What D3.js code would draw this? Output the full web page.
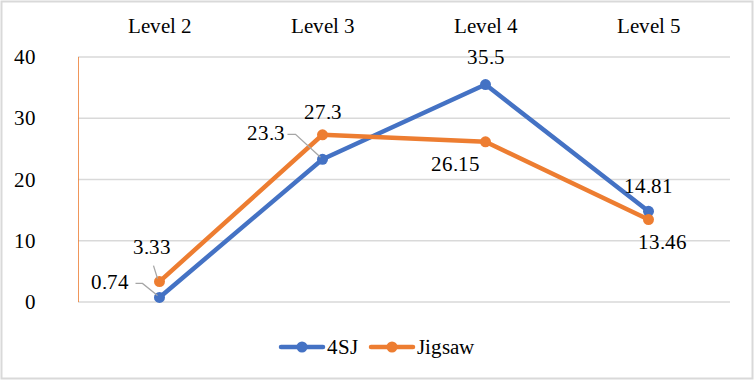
<!DOCTYPE html>
<html><head><meta charset="utf-8">
<script src="https://cdn.jsdelivr.net/npm/d3@7"></script>
<style>
@font-face{font-family:"ChartSerif";src:local("Liberation Serif"),local("LiberationSerif"),local("Liberation Serif Regular"),local("LiberationSerif-Regular");}
</style>
</head><body style="margin:0"><svg id="c" width="754" height="381"></svg>
<script>
const categories = ["Level 2","Level 3","Level 4","Level 5"];
const series4SJ = [0.74, 23.3, 35.5, 14.81];
const seriesJigsaw = [3.33, 27.3, 26.15, 13.46];
const seriesNames = ["4SJ","Jigsaw"];
const yTicks = [0,10,20,30,40];

const FONT = "ChartSerif, Liberation Serif, serif";
const svg = d3.select("#c");
const colors = {"4SJ":"#4472C4","Jigsaw":"#ED7D31"};
svg.append("rect").attr("x",1.5).attr("y",1.5).attr("width",751).attr("height",377)
  .attr("fill","#fff").attr("stroke","#d9d9d9").attr("stroke-width",2);

const x = d3.scaleBand().domain(categories).range([78,730]).padding(0);
const y = d3.scaleLinear().domain([0,40]).range([302,57]);
const cx = c => x(c)+x.bandwidth()/2;

svg.append("g").selectAll("line").data(yTicks).join("line")
  .attr("x1",78).attr("x2",730).attr("y1",d=>y(d)).attr("y2",d=>y(d))
  .attr("stroke","#d9d9d9").attr("stroke-width",1.3);
svg.append("line").attr("x1",78.5).attr("x2",78.5).attr("y1",y(40)).attr("y2",y(0))
  .attr("stroke","#ED7D31").attr("stroke-width",1).attr("opacity",0.8);

const yAxis = d3.axisLeft(y).tickValues(yTicks).tickSize(0).tickPadding(0);
const ga = svg.append("g").attr("transform","translate(36,0)").call(yAxis)
  .attr("font-family",FONT).attr("font-size",21);
ga.select(".domain").remove();
ga.selectAll("text").attr("font-family",FONT).attr("font-size",21).attr("fill","#000");

const xAxis = d3.axisTop(x).tickSize(0).tickPadding(0);
const gx = svg.append("g").attr("transform","translate(0,33)").call(xAxis)
  .attr("font-family",FONT).attr("font-size",21);
gx.select(".domain").remove();
gx.selectAll("text").attr("font-family",FONT).attr("font-size",21).attr("fill","#000").attr("dy",0);

const data = [{name:"4SJ",vals:series4SJ},{name:"Jigsaw",vals:seriesJigsaw}];
const line = d3.line().x((d,i)=>cx(categories[i])).y(d=>y(d));
data.forEach(s=>{
  svg.append("path").attr("d",line(s.vals)).attr("fill","none")
    .attr("stroke",colors[s.name]).attr("stroke-width",4.5).attr("stroke-linejoin","round").attr("stroke-linecap","round");
  svg.append("g").selectAll("circle").data(s.vals).join("circle")
    .attr("cx",(d,i)=>cx(categories[i])).attr("cy",d=>y(d)).attr("r",5.5).attr("fill",colors[s.name]);
});

const labelOff = {
  "4SJ":[{dx:-50,dy:-8,leader:[[-24,-14],[-17,-14],[-2,-2]]},
         {dx:-57,dy:-19,leader:[[-35,-25],[-27,-25],[-2,-2]]},
         {dx:0,dy:-21},
         {dx:0,dy:-18}],
  "Jigsaw":[{dx:-8,dy:-28,leader:[[-6,-16],[-2,-3]]},
            {dx:0,dy:-16},
            {dx:-30,dy:29},
            {dx:14,dy:29}]
};
data.forEach(s=>{
  s.vals.forEach((v,i)=>{
    const px = cx(categories[i]), py = y(v);
    const o = labelOff[s.name][i];
    if(o.leader){
      svg.append("polyline").attr("points",o.leader.map(p=>[px+p[0],py+p[1]].join(",")).join(" "))
        .attr("fill","none").attr("stroke","#a6a6a6").attr("stroke-width",1.3);
    }
    svg.append("text").attr("x",px+o.dx).attr("y",py+o.dy).attr("text-anchor","middle")
      .attr("font-family",FONT).attr("font-size",21).attr("fill","#000").text(v);
  });
});

const leg = svg.append("g");
const legItems = [{name:"4SJ",x:281},{name:"Jigsaw",x:371}];
legItems.forEach(it=>{
  leg.append("line").attr("x1",it.x).attr("x2",it.x+42).attr("y1",347).attr("y2",347)
    .attr("stroke",colors[it.name]).attr("stroke-width",4.5).attr("stroke-linecap","round");
  leg.append("circle").attr("cx",it.x+21).attr("cy",347).attr("r",5.5).attr("fill",colors[it.name]);
  leg.append("text").attr("x",it.x+46).attr("y",354)
    .attr("font-family",FONT).attr("font-size",21).attr("fill","#000").text(it.name);
});
</script></body></html>
